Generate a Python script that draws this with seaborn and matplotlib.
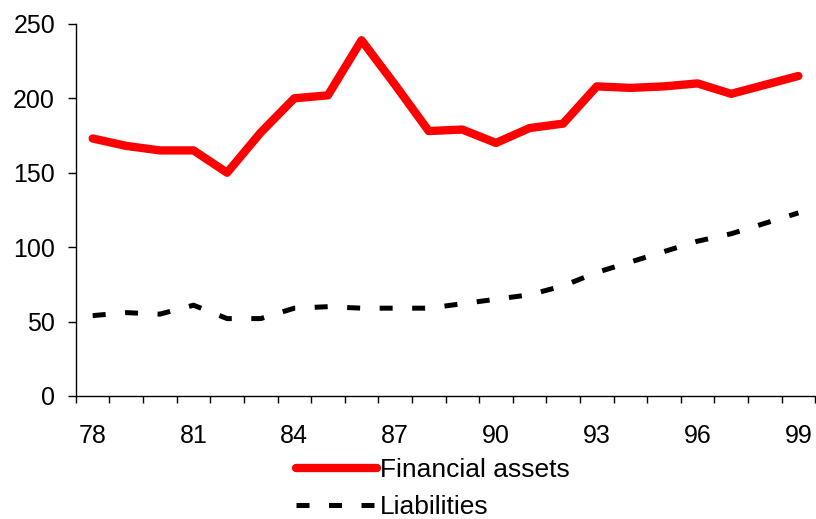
import numpy as np
import pandas as pd
import matplotlib
matplotlib.use("Agg")
import matplotlib.pyplot as plt
import seaborn as sns

years = ["78", "79", "80", "81", "82", "83", "84", "85", "86", "87", "88",
         "89", "90", "91", "92", "93", "94", "95", "96", "97", "98", "99"]
financial_assets = [173, 168, 165, 165, 150, 177, 200, 202, 239, 209, 178,
                    179, 170, 180, 183, 208, 207, 208, 210, 203, 209, 215]
liabilities = [54, 56, 55, 61, 52, 52, 59, 60, 59, 59, 59,
               62, 65, 68, 74, 83, 90, 97, 104, 109, 116, 123]

sns.set_style("white")
plt.rcParams["font.family"] = ["Liberation Sans", "DejaVu Sans"]
plt.rcParams["text.color"] = "black"
plt.rcParams["xtick.color"] = "black"
plt.rcParams["ytick.color"] = "black"

x = np.arange(len(years))
df = pd.DataFrame({
    "pos": np.concatenate([x, x]),
    "value": financial_assets + liabilities,
    "series": ["Financial assets"] * len(x) + ["Liabilities"] * len(x),
})

fig = plt.figure(figsize=(8.16, 5.19), dpi=100)
ax = fig.add_axes([0.093, 0.237, 0.906, 0.717])

sns.lineplot(data=df[df.series == "Financial assets"], x="pos", y="value",
             color="#ff0000", linewidth=6, ax=ax, label="Financial assets")
sns.lineplot(data=df[df.series == "Liabilities"], x="pos", y="value",
             color="black", linewidth=3.6, ax=ax, label="Liabilities")
ax.lines[1].set_dashes([2.6, 3.9])
ax.lines[1].set_solid_capstyle("butt")

ax.set_xlim(-0.5, len(years) - 0.5)
ax.set_ylim(0, 250)
ax.set_yticks(range(0, 251, 50))
ax.set_xticks(x[::3])
ax.set_xticklabels(years[::3])
ax.set_xticks(np.arange(-0.5, len(years), 1), minor=True)
ax.tick_params(axis="x", which="major", length=0, pad=20, labelsize=18)
ax.tick_params(axis="x", which="minor", length=5, width=1, direction="out", bottom=True)
ax.tick_params(axis="y", length=6, width=1, direction="out", left=True, labelsize=18, pad=9)
ax.set_xlabel("")
ax.set_ylabel("")
for side in ["top", "right"]:
    ax.spines[side].set_visible(False)
for side in ["left", "bottom"]:
    ax.spines[side].set_color("black")
    ax.spines[side].set_linewidth(1)

ax.get_legend().remove()
handles, labels = ax.get_legend_handles_labels()
fig.legend(handles, labels, loc="upper left", bbox_to_anchor=(0.363, 0.117),
           frameon=False, fontsize=19, handlelength=3.07, handletextpad=0.11,
           labelspacing=0.5, borderpad=0, borderaxespad=0)

fig.savefig("out.png", dpi=100)
